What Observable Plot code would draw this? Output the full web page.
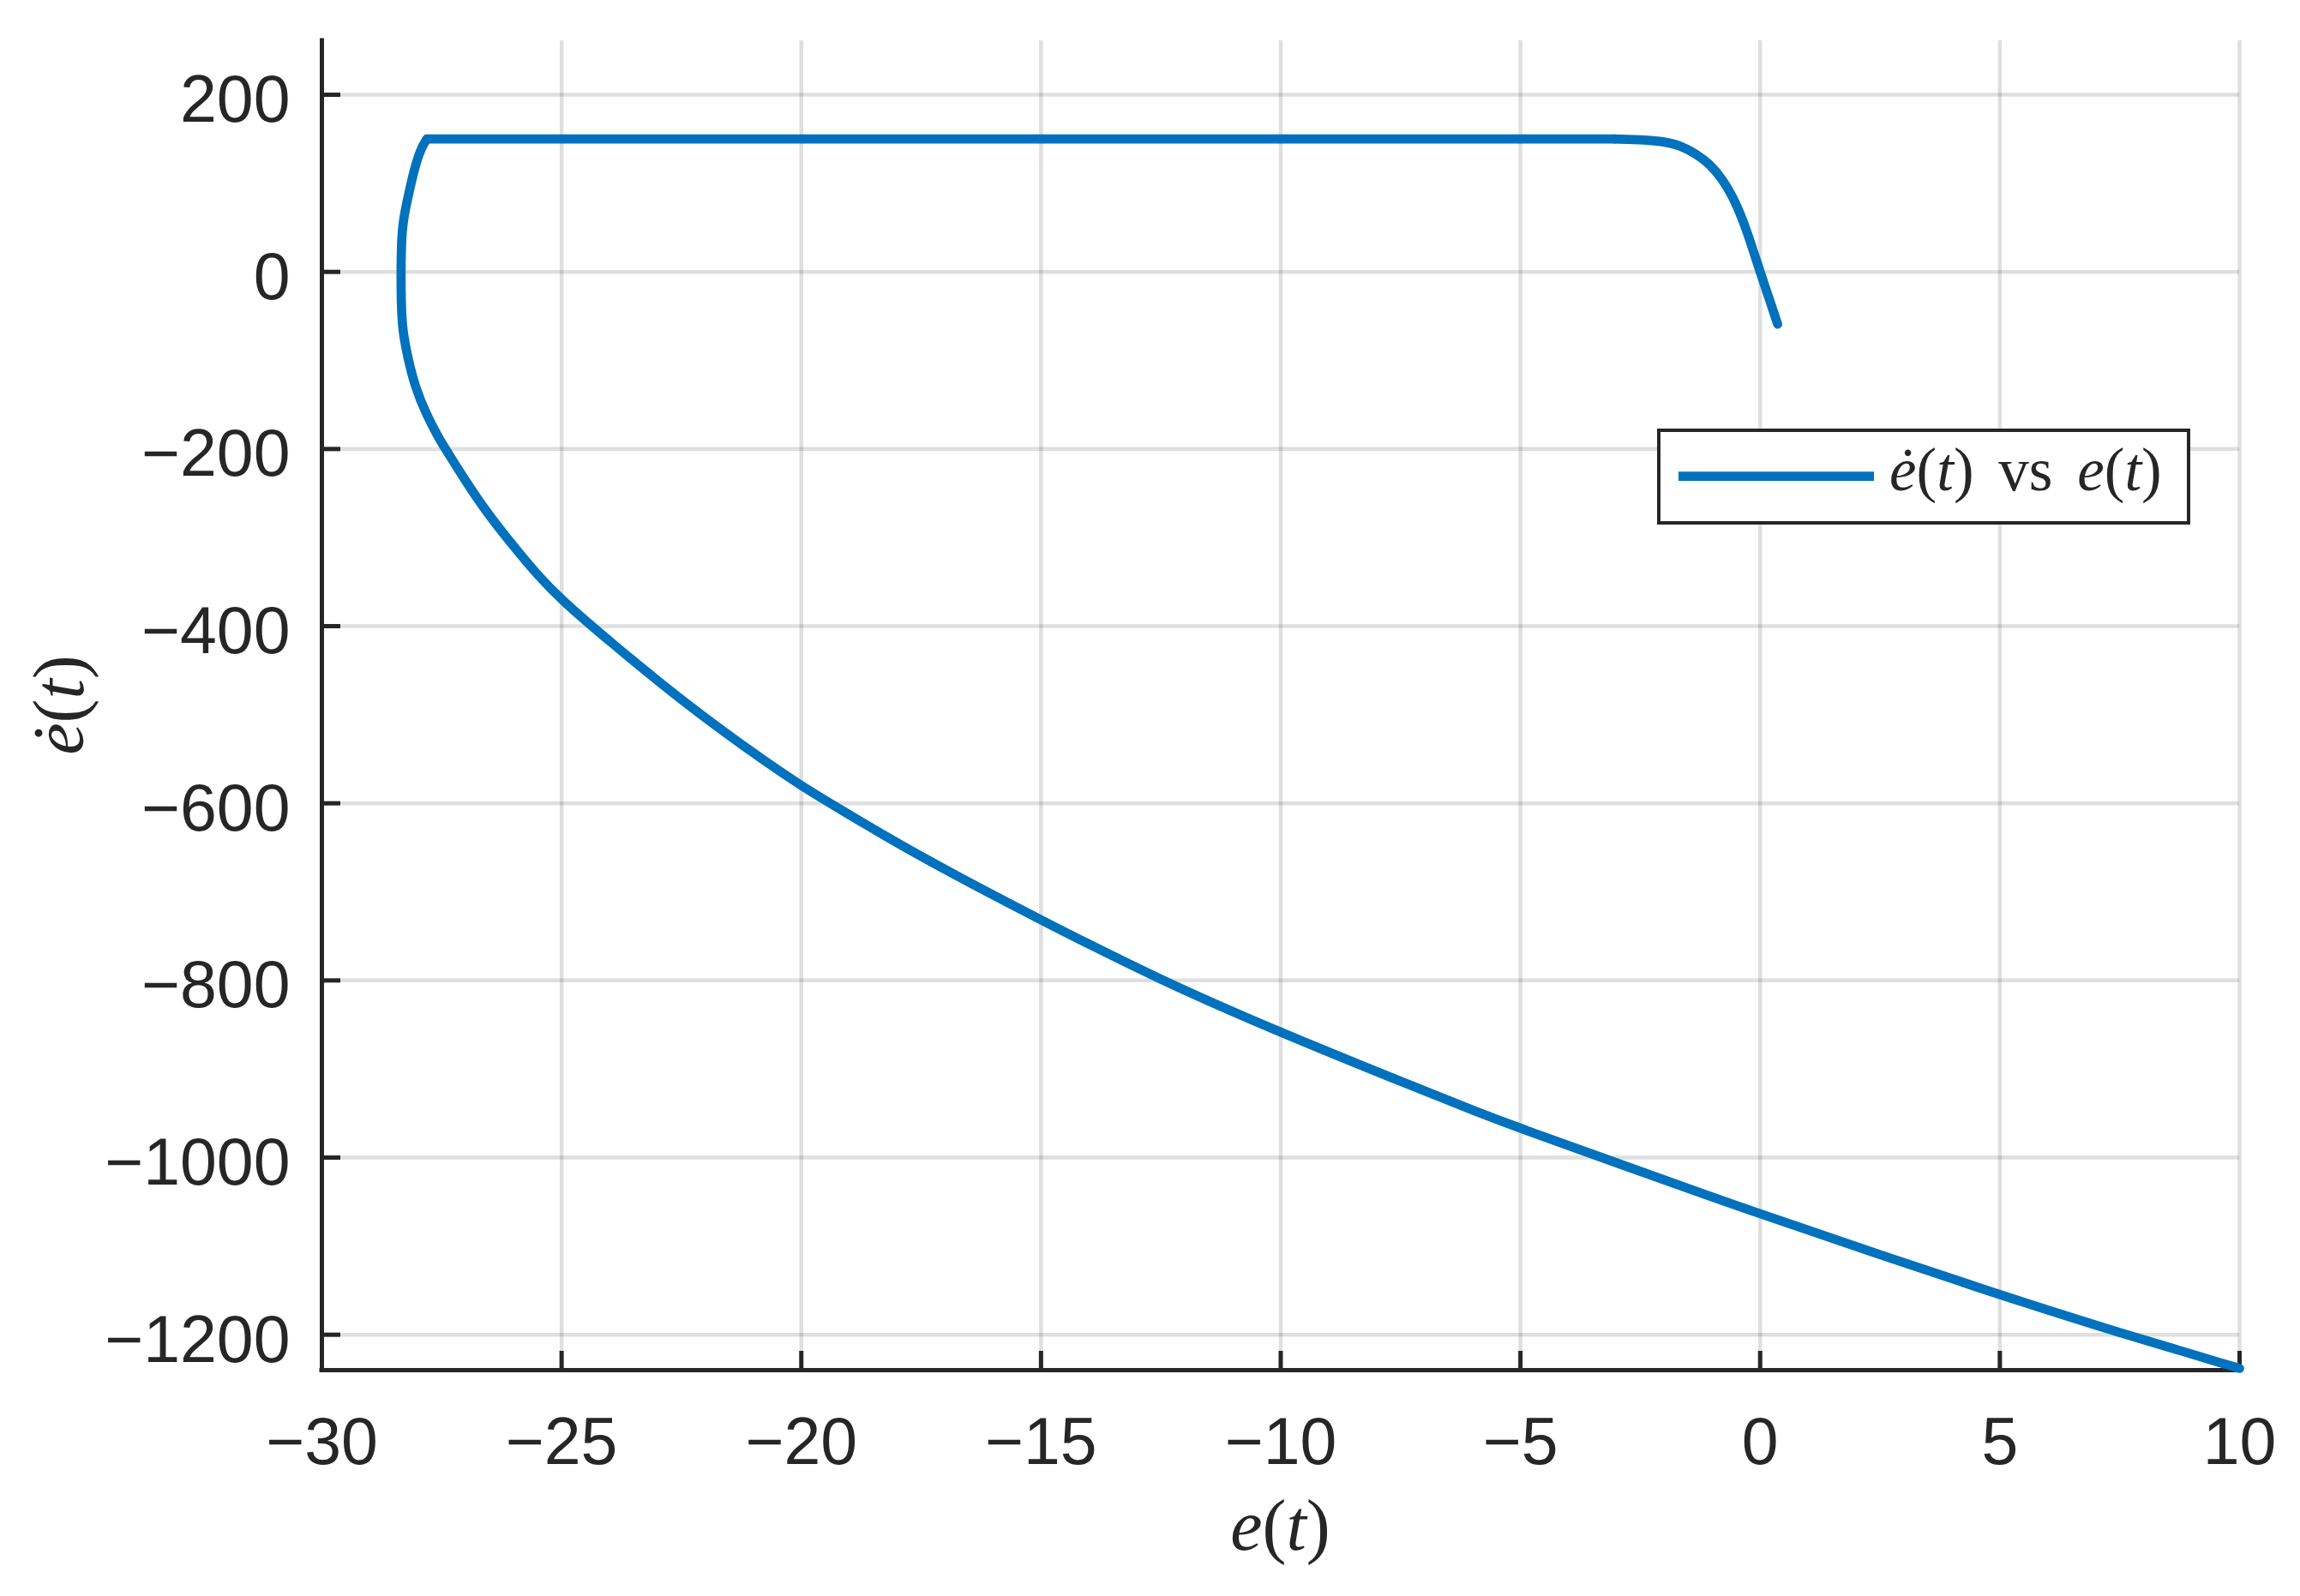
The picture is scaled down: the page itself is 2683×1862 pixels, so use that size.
<!DOCTYPE html>
<html>
<head>
<meta charset="utf-8">
<script src="https://cdn.jsdelivr.net/npm/d3@7"></script>
<script src="https://cdn.jsdelivr.net/npm/@observablehq/plot@0.6"></script>
<style>
  html, body { margin: 0; padding: 0; background: #ffffff; }
  #chart svg { display: block; }
</style>
</head>
<body>
<div id="chart"></div>
<script>
// ---- Data (phase portrait: e(t) vs de/dt) ----
const eVals = [
  10, 7.5, 5, 2.52, 0, -3.3, -5, -5.83, -7.27, -10, -12.5, -15, -17.54, -19.4, -20, -20.62,
  -22.32, -24.07, -24.99, -25.51, -26.03, -26.57, -27.03, -27.42, -27.56, -27.83, -28.05,
  -28.21, -28.31, -28.35, -28.35, -28.28, -28.19, -28.07, -27.93, -27.81,
  -3.04, -2.36, -2.01, -1.67, -1.33, -1.05, -0.78, -0.58, -0.36, -0.18, 0, 0.18, 0.365
];
const edotVals = [
  -1238, -1198, -1155, -1110, -1064, -1000, -967, -950, -919, -859, -800, -732, -660, -600, -580, -558,
  -492, -414, -371, -342, -308, -271, -234, -200, -188, -160, -131,
  -97, -68, -41, 40, 65, 88, 117, 140, 150,
  150, 149, 147, 143, 133, 122, 104, 86, 59, 30, 0, -29, -59
];
const xTicks = [-30, -25, -20, -15, -10, -5, 0, 5, 10];
const yTicks = [-1200, -1000, -800, -600, -400, -200, 0, 200];
const xDomain = [-30, 10];
const yDomain = [-1240, 261];
const xLabelParts = [["e", true], ["(", false], ["t", true], [")", false]];
const yLabelParts = [["ė", true], ["(", false], ["t", true], [")", false]];
const legendParts = [["ė", true], ["(", false], ["t", true], [")", false], [" vs ", false], ["e", true], ["(", false], ["t", true], [")", false]];

const points = eVals.map((e, i) => ({e, edot: edotVals[i]}));
// the sharp corner where the trajectory meets the flat top segment
const corner = eVals.indexOf(-27.81);
const partA = points.slice(0, corner + 1);       // lower branch up to the corner
const partB = points.slice(corner, corner + 2);  // flat top segment
const partC = points.slice(corner + 1);          // knee down to the end

const W = 2683, H = 1862;
const mL = 375, mR = 71, mT = 47, mB = 264;
const plotW = W - mL - mR, plotH = H - mT - mB;
const ink = "#262626";
const blue = "#0072BD";
const fmt = d => (d < 0 ? "\u2212" + Math.abs(d) : String(d));
const lineStyle = {x: "e", y: "edot", stroke: blue, strokeWidth: 10.7, strokeLinecap: "round", strokeLinejoin: "miter"};

const chart = Plot.plot({
  width: W,
  height: H,
  marginLeft: mL,
  marginRight: mR,
  marginTop: mT,
  marginBottom: mB,
  x: {domain: xDomain, ticks: xTicks},
  y: {domain: yDomain, ticks: yTicks},
  style: {fontFamily: "'Liberation Sans', Arial, Helvetica, sans-serif", fontSize: "77px", color: ink, background: "#ffffff"},
  marks: [
    Plot.gridX(xTicks, {stroke: ink, strokeOpacity: 0.15, strokeWidth: 4.5}),
    Plot.gridY(yTicks, {stroke: ink, strokeOpacity: 0.15, strokeWidth: 4.5}),
    Plot.axisX(xTicks, {tickSize: 0, tickPadding: 55, tickFormat: fmt, label: null, fontSize: 77, fill: ink}),
    Plot.axisY(yTicks, {tickSize: 0, tickPadding: 37, tickFormat: fmt, label: null, fontSize: 77, fill: ink, dy: 7}),
    Plot.tickX(xTicks, {x: d => d, stroke: ink, strokeWidth: 5, insetTop: plotH - 22}),
    Plot.tickY(yTicks, {y: d => d, stroke: ink, strokeWidth: 5, insetRight: plotW - 22}),
    Plot.ruleX([xDomain[0]], {stroke: ink, strokeWidth: 5, strokeLinecap: "square"}),
    Plot.ruleY([yDomain[0]], {stroke: ink, strokeWidth: 5, strokeLinecap: "square"}),
    Plot.line(partA, {...lineStyle, curve: "basis"}),
    Plot.line(partB, {...lineStyle, curve: "linear"}),
    Plot.line(partC, {...lineStyle, curve: "basis"})
  ]
});

document.getElementById("chart").appendChild(chart);

// ---- math-style labels and legend ----
const svg = d3.select(chart);
const serif = "'Liberation Serif', 'Times New Roman', 'DejaVu Serif', serif";
function addMath(textSel, parts) {
  parts.forEach(([t, it]) => textSel.append("tspan").attr("font-style", it ? "italic" : "normal").text(t));
}
const xl = svg.append("text")
  .attr("x", mL + plotW / 2).attr("y", 1808)
  .attr("text-anchor", "middle").attr("font-family", serif).attr("font-size", 84).attr("fill", ink);
addMath(xl, xLabelParts);
const yl = svg.append("text")
  .attr("transform", `translate(97, ${mT + plotH / 2}) rotate(-90)`)
  .attr("text-anchor", "middle").attr("font-family", serif).attr("font-size", 84).attr("fill", ink);
addMath(yl, yLabelParts);

const lg = svg.append("g");
lg.append("rect").attr("x", 1935).attr("y", 502).attr("width", 618).attr("height", 108)
  .attr("fill", "#ffffff").attr("stroke", ink).attr("stroke-width", 4);
lg.append("line").attr("x1", 1958).attr("x2", 2186).attr("y1", 555.6).attr("y2", 555.6)
  .attr("stroke", blue).attr("stroke-width", 10.7);
const lt = lg.append("text").attr("x", 2204).attr("y", 572)
  .attr("text-anchor", "start")
  .attr("font-family", serif).attr("font-size", 71).attr("fill", ink).attr("word-spacing", 11);
addMath(lt, legendParts);
</script>
</body>
</html>
